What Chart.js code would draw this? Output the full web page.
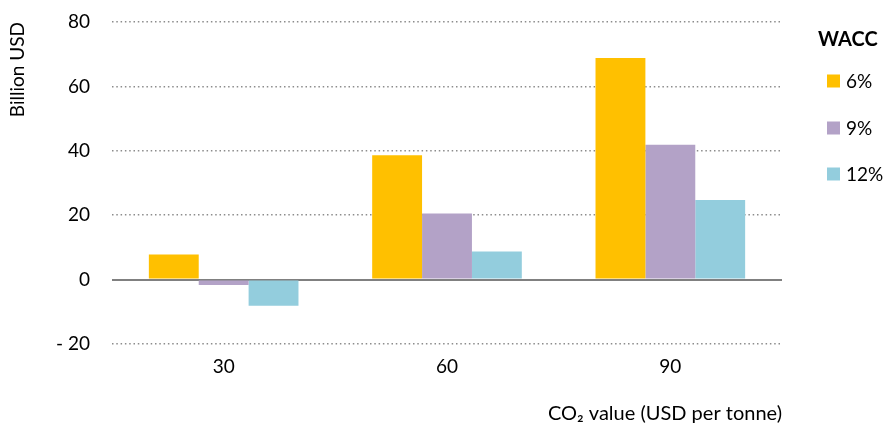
<!DOCTYPE html>
<html>
<head>
<meta charset="utf-8">
<script src="https://cdn.jsdelivr.net/npm/chart.js@4/dist/chart.umd.min.js"></script>
<style>
html,body{margin:0;padding:0;background:#fff;}
#wrap{width:886px;height:429px;position:relative;}
</style>
</head>
<body>
<div id="wrap"><canvas id="c" width="886" height="429"></canvas></div>
<script>
const categories = ['30', '60', '90'];
const seriesLabels = ['6%', '9%', '12%'];
const wacc6 = [7.8, 38.6, 68.8];
const wacc9 = [-1.7, 20.5, 41.9];
const wacc12 = [-8.1, 8.7, 24.7];
const yTicks = [-20, 0, 20, 40, 60, 80];
const legendTitle = 'WACC';
const yTitle = 'Billion USD';
const xTitle = 'CO\u2082 value (USD per tonne)';
const colors = ['#FFC000', '#B3A2C7', '#93CDDD'];

const FONT = 'Lato, "Open Sans", sans-serif';
const FS = 19;

const legendPlugin = {
  id: 'customLegend',
  afterDraw(chart) {
    const ctx = chart.ctx;
    ctx.save();
    ctx.fillStyle = '#000';
    ctx.font = 'bold ' + (FS + 1) + 'px ' + FONT;
    ctx.textAlign = 'left';
    ctx.textBaseline = 'middle';
    ctx.fillText(legendTitle, 818, 40);
    const ys = [81, 128, 174];
    chart.data.datasets.forEach((ds, i) => {
      ctx.fillStyle = ds.backgroundColor;
      ctx.fillRect(827, ys[i] - 6.5, 13, 13);
      ctx.fillStyle = '#000';
      ctx.font = FS + 'px ' + FONT;
      ctx.fillText(ds.label, 846, ys[i] + 1);
    });
    ctx.restore();
  }
};

new Chart(document.getElementById('c'), {
  type: 'bar',
  data: {
    labels: categories,
    datasets: [
      { label: seriesLabels[0], data: wacc6, backgroundColor: colors[0] },
      { label: seriesLabels[1], data: wacc9, backgroundColor: colors[1] },
      { label: seriesLabels[2], data: wacc12, backgroundColor: colors[2] }
    ]
  },
  options: {
    responsive: false,
    animation: false,
    devicePixelRatio: 1,
    layout: { padding: { top: 22, right: 104, bottom: 0, left: 6 } },
    datasets: { bar: { categoryPercentage: 0.67, barPercentage: 1.0 } },
    plugins: { legend: { display: false }, tooltip: { enabled: false } },
    scales: {
      x: {
        grid: { display: false, drawTicks: false },
        border: { display: false },
        ticks: { color: '#000', font: { family: FONT, size: FS }, padding: 11 },
        title: { display: true, text: xTitle, align: 'end', color: '#000',
                 font: { family: FONT, size: 20 }, padding: { top: 0, bottom: 3 } },
        afterFit(s) { s.height = 85; s.paddingLeft = 0; s.paddingRight = 0; }
      },
      y: {
        min: -20, max: 80,
        afterBuildTicks(s) { s.ticks = yTicks.map(v => ({ value: v })); },
        grid: {
          drawTicks: false,
          color: ctx => ctx.tick && ctx.tick.value === 0 ? '#808080' : '#8c8c8c',
          lineWidth: ctx => ctx.tick && ctx.tick.value === 0 ? 2 : 1.5
        },
        border: { display: false, dash: ctx => ctx.tick && ctx.tick.value === 0 ? [] : [1.5, 2.8] },
        ticks: {
          color: '#000', font: { family: FONT, size: FS }, padding: 22,
          callback: v => v < 0 ? '- ' + Math.abs(v) : String(v)
        },
        title: { display: true, text: yTitle, align: 'end', color: '#000',
                 font: { family: FONT, size: FS }, padding: { top: 0, bottom: 0 } },
        afterFit(s) { s.width = 106; s.paddingTop = 0; s.paddingBottom = 0; }
      }
    }
  },
  plugins: [legendPlugin]
});
</script>
</body>
</html>
